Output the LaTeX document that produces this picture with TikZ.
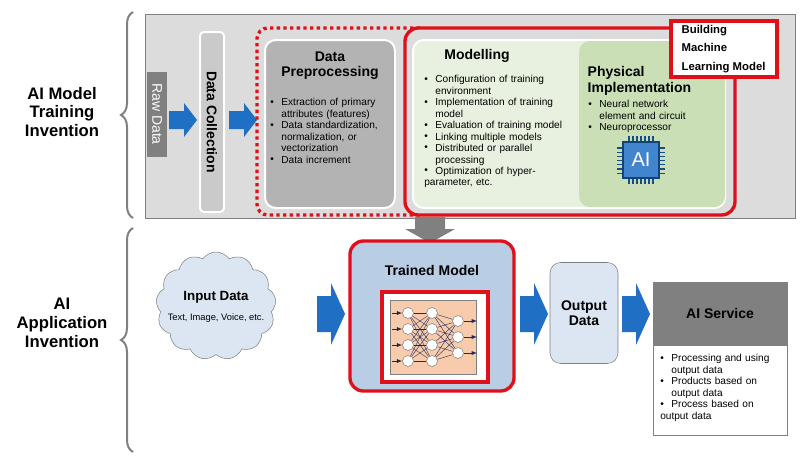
\documentclass[tikz,border=0pt]{standalone}
\usepackage{fontspec}
\setmainfont{Liberation Sans}
\usetikzlibrary{shapes.symbols,decorations.pathreplacing}
\hyphenpenalty=10000 \exhyphenpenalty=50
\newcommand\bul[1]{\par\hangindent=1.1em\hangafter=1\noindent\makebox[1.1em][l]{\raisebox{0.1ex}{\textbullet}}#1}
\definecolor{ablue}{HTML}{1F6FC5}
\definecolor{lgray}{HTML}{DCDCDC}
\definecolor{mgray}{HTML}{B3B3B3}
\definecolor{dgray}{HTML}{808080}
\definecolor{lgreen}{HTML}{E8F1DF}
\definecolor{mgreen}{HTML}{CADFB5}
\definecolor{tblue}{HTML}{B9CDE5}
\definecolor{cblue}{HTML}{DCE6F2}
\definecolor{rred}{HTML}{E0101A}
\definecolor{org}{HTML}{F8CBAD}
\definecolor{navy}{HTML}{1A2A5A}
\begin{document}
\begin{tikzpicture}[x=0.75pt,y=-0.75pt,
  pics/barr/.style n args={5}{code={\fill[#5] (-#1/2,-#2) -- (#1/2-#4,-#2) -- (#1/2-#4,-#3) -- (#1/2,0) -- (#1/2-#4,#3) -- (#1/2-#4,#2) -- (-#1/2,#2) -- cycle;}},
  bullets/.style={align=left,font=\fontsize{7.6}{8.6}\selectfont,inner sep=0pt,anchor=north west},
  title/.style={font=\bfseries\fontsize{10.5}{11.5}\selectfont,align=center},
  neuron/.style={circle,draw=gray,fill=white,minimum size=11*0.75pt,inner sep=0pt},
  brace/.style={decorate,decoration={brace,amplitude=9pt},draw=dgray,line width=1.5pt},
  side/.style={font=\bfseries\fontsize{12.5}{14}\selectfont,align=center}]
\useasboundingbox (0,0) rectangle (800,464);
% left labels and braces
\coordinate (b1a) at (133,218); \coordinate (b1b) at (133,12);
\coordinate (b2a) at (133,452); \coordinate (b2b) at (133,228);
\draw[brace] (b1a) -- (b1b);
\draw[brace] (b2a) -- (b2b);
\node[side] (lab1) at (62,112) {AI Model\\Training\\Invention};
\node[side] (lab2) at (62,323) {AI\\Application\\Invention};
% top panel
\node[draw=dgray,fill=lgray,minimum width=650*0.75pt,minimum height=204*0.75pt,inner sep=0pt] (panel) at (470,116) {};
\node[fill=dgray,minimum width=20*0.75pt,minimum height=85*0.75pt,inner sep=0pt] (raw) at (157,114) {};
\node[rotate=-90,text=white,font=\fontsize{10.5}{12}\selectfont] at (raw) {Raw Data};
\pic (a1) at (183,120) {barr={28}{9}{17}{13}{ablue}};
\node[draw=white,line width=1.5pt,fill=mgray!70,rounded corners=3pt,minimum width=24*0.75pt,minimum height=180*0.75pt,inner sep=0pt] (dc) at (212,122) {};
\node[rotate=-90,font=\bfseries\fontsize{10.5}{12}\selectfont] at (dc) {Data Collection};
\pic (a2) at (243,120) {barr={28}{9}{17}{13}{ablue}};
\draw[rred,line width=2.5pt,dash pattern=on 2.5pt off 2.5pt,rounded corners=8pt] (420,28) -- (257,28) -- (257,215) -- (420,215);
\node[draw=white,line width=1.5pt,fill=mgray,rounded corners=8pt,minimum width=130*0.75pt,minimum height=168*0.75pt,inner sep=0pt] (dp) at (330,124) {};
\node[title,anchor=north] (dpt) at (330,47) {Data\\Preprocessing};
\node[bullets,text width=122*0.75pt] (dpb) at (270,94) {\bul{Extraction of primary attributes (features)}\bul{Data standardization, normalization, or vectorization}\bul{Data increment}};
\node[draw=rred,line width=2.5pt,fill=lgray,rounded corners=10pt,minimum width=330*0.75pt,minimum height=187*0.75pt,inner sep=0pt] (redbox) at (570,121.5) {};
\node[draw=white,line width=1.5pt,fill=lgreen,rounded corners=8pt,minimum width=312*0.75pt,minimum height=168*0.75pt,inner sep=0pt] (mod) at (569,124) {};
\node[fill=mgreen,rounded corners=8pt,minimum width=146*0.75pt,minimum height=166*0.75pt,inner sep=0pt] (phys) at (652,124) {};
\node[title,anchor=north] (modt) at (477,45) {Modelling};
\node[bullets,text width=150*0.75pt] (modb) at (424,71) {\bul{Configuration of training environment}\bul{Implementation of training model}\bul{Evaluation of training model}\bul{Linking multiple models}\bul{Distributed or parallel processing}\bul{Optimization of hyper-parameter, etc.}};
\node[title,anchor=north west,align=left] (physt) at (583,62) {Physical\\Implementation};
\node[bullets,text width=115*0.75pt] (physb) at (588,96) {\bul{Neural network element and circuit}\bul{Neuroprocessor}};
% chip
\foreach \i in {0,...,6}{
  \draw[ablue!70!black,line width=1pt] (629+\i*4,136) -- (629+\i*4,184);
  \draw[ablue!70!black,line width=1pt] (617,148+\i*4.2) -- (665,148+\i*4.2);}
\node[draw=ablue!60!black,line width=1pt,fill=ablue!85,minimum size=36*0.75pt,inner sep=0pt,text=white,font=\fontsize{15}{15}\selectfont] (chip) at (641,160) {AI};
\node[draw=rred,line width=2.5pt,fill=white,minimum width=106*0.75pt,minimum height=56*0.75pt,inner sep=0pt] (build) at (724,49) {};
\node[anchor=west,font=\bfseries\fontsize{8.5}{14}\selectfont,align=left] (buildt) at (677,49) {Building\\Machine\\Learning Model};
% down arrow
\pic[rotate=-90] (down) at (430,230) {barr={26}{15}{25}{14}{dgray}};
% bottom
\node[cloud,cloud puffs=13,cloud puff arc=110,aspect=1.1,draw=gray,fill=cblue,minimum width=120*0.75pt,minimum height=108*0.75pt] (cloud) at (216,306) {};
\node[font=\bfseries\fontsize{10}{11}\selectfont] (idt) at (216,297) {Input Data};
\node[font=\fontsize{7}{8}\selectfont] (ids) at (216,318) {Text, Image, Voice, etc.};
\pic (a3) at (331,314) {barr={28}{18}{31}{14}{ablue}};
\node[draw=rred,line width=2.5pt,fill=tblue,rounded corners=10pt,minimum width=164*0.75pt,minimum height=150*0.75pt,inner sep=0pt] (tm) at (432,316) {};
\node[title] (tmt) at (432,270) {Trained Model};
\node[draw=rred,line width=2.5pt,fill=white,minimum width=106*0.75pt,minimum height=90*0.75pt,inner sep=0pt] (nnbox) at (435,337) {};
\node[draw=gray,fill=org,minimum width=86*0.75pt,minimum height=74*0.75pt,inner sep=0pt] (nn) at (433,337) {};
\foreach \j in {1,...,4}{
  \node[neuron] (i\j) at (408,297+\j*16) {};
  \node[neuron] (h\j) at (432,297+\j*16) {};
  \coordinate (s\j) at (392,297+\j*16);
  \draw[-latex,navy] (s\j) -- (i\j);}
\foreach \k in {1,2,3}{
  \node[neuron] (o\k) at (458,305+\k*16) {};
  \coordinate (e\k) at (477,305+\k*16);
  \draw[-latex,navy] (o\k) -- (e\k);}
\foreach \a in {1,...,4}{\foreach \b in {1,...,4}{\draw[navy,line width=0.3pt] (i\a) -- (h\b);}
  \foreach \b in {1,2,3}{\draw[navy,line width=0.3pt] (h\a) -- (o\b);}}
\pic (a4) at (534,314) {barr={28}{18}{31}{14}{ablue}};
\node[draw=gray,fill=cblue,rounded corners=8pt,minimum width=68*0.75pt,minimum height=101*0.75pt,inner sep=0pt,title] (out) at (584,313) {Output\\Data};
\pic (a5) at (636,314) {barr={28}{18}{31}{14}{ablue}};
\node[draw=gray,fill=dgray,minimum width=134*0.75pt,minimum height=63*0.75pt,inner sep=0pt,title] (ais) at (720,313.5) {AI Service};
\node[draw=gray,fill=white,minimum width=134*0.75pt,minimum height=90*0.75pt,inner sep=0pt] (aisb) at (720,390) {};
\node[bullets,text width=122*0.75pt] (aisbt) at (660,350) {\bul{Processing and using output data}\bul{Products based on output data}\bul{Process based on output data}};
\end{tikzpicture}
\end{document}
